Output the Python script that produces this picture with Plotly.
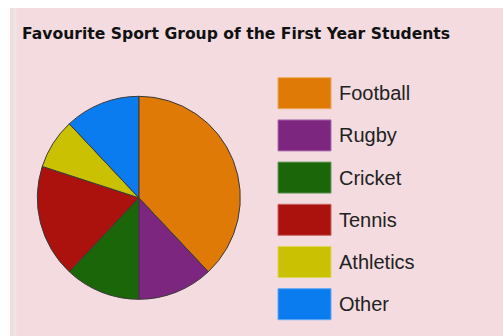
import plotly.graph_objects as go

# Favourite sport group shares (%) for the first year students
sports = ["Football", "Rugby", "Cricket", "Tennis", "Athletics", "Other"]
shares = [38, 12, 12, 18, 8, 12]
colors = ["#DF7A07", "#7D2680", "#1A6609", "#AB110D", "#C9C101", "#0A7CF0"]
title_text = "Favourite Sport Group of the First Year Students"

W, H = 503, 336
BG = "#F3DBE0"


def px_x(x):
    return x / W


def px_y(y):
    return 1 - y / H


def lighten(hex_color, amt=0.35):
    r, g, b = (int(hex_color[i:i + 2], 16) for i in (1, 3, 5))
    r, g, b = (int(c + (255 - c) * amt) for c in (r, g, b))
    return f"#{r:02X}{g:02X}{b:02X}"


# pie placement (pixels)
cx, cy, rad = 138.8, 197.8, 101.5

fig = go.Figure()
fig.add_trace(go.Pie(
    labels=sports,
    values=shares,
    sort=False,
    direction="clockwise",
    rotation=0,
    marker=dict(colors=colors, line=dict(color="#3A3A3A", width=1)),
    textinfo="none",
    hoverinfo="label+percent",
    showlegend=False,
    domain=dict(x=[px_x(cx - rad), px_x(cx + rad)],
                y=[px_y(cy + rad), px_y(cy - rad)]),
))

shapes = [
    # pink panel with a pale stripe on its left edge
    dict(type="rect", xref="paper", yref="paper", layer="below",
         x0=px_x(10), x1=1, y0=0, y1=px_y(8), fillcolor=BG, line_width=0),
    dict(type="rect", xref="paper", yref="paper", layer="below",
         x0=px_x(13.5), x1=px_x(16.5), y0=0, y1=px_y(8),
         fillcolor="#EDE6E8", line_width=0),
]
annotations = [
    dict(text="<b>" + title_text + "</b>", xref="paper", yref="paper",
         x=px_x(20), y=px_y(34), xanchor="left", yanchor="middle",
         showarrow=False,
         font=dict(family="Comic Sans MS, DejaVu Sans", size=15.6, color="#111111")),
]

# legend: wide colour swatches with labels
sw_x0, sw_x1 = 278, 331
row0, step, sw_h = 93.2, 42.2, 31
for i, (name, col) in enumerate(zip(sports, colors)):
    yc = row0 + i * step
    shapes.append(dict(type="rect", xref="paper", yref="paper",
                       x0=px_x(sw_x0), x1=px_x(sw_x1),
                       y0=px_y(yc + sw_h / 2), y1=px_y(yc - sw_h / 2),
                       fillcolor=col, line=dict(color=lighten(col), width=1)))
    annotations.append(dict(text=name, xref="paper", yref="paper",
                            x=px_x(337), y=px_y(yc), xanchor="left",
                            yanchor="middle", showarrow=False,
                            font=dict(family="Liberation Sans, Arial", size=20,
                                      color="#222222")))

fig.update_layout(
    width=W, height=H,
    margin=dict(l=0, r=0, t=0, b=0),
    paper_bgcolor="white",
    plot_bgcolor="white",
    shapes=shapes,
    annotations=annotations,
)

fig.write_html("out.html")
